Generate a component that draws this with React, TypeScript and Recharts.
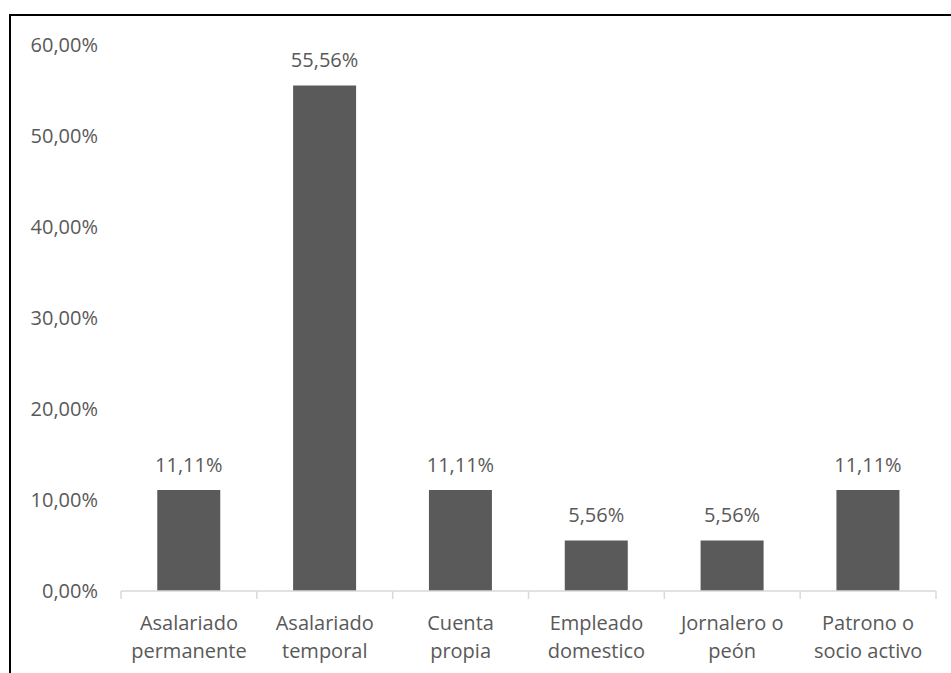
import { BarChart, Bar, XAxis, YAxis, LabelList } from "recharts";

const categories = [
  "Asalariado permanente",
  "Asalariado temporal",
  "Cuenta propia",
  "Empleado domestico",
  "Jornalero o peón",
  "Patrono o socio activo",
];
const tickLines = [
  ["Asalariado", "permanente"],
  ["Asalariado", "temporal"],
  ["Cuenta", "propia"],
  ["Empleado", "domestico"],
  ["Jornalero o", "peón"],
  ["Patrono o", "socio activo"],
];
const shares = [11.11, 55.56, 11.11, 5.56, 5.56, 11.11];
const yTicks = [0, 10, 20, 30, 40, 50, 60];

const fmt = (v: number) => `${v.toFixed(2).replace(".", ",")}%`;
const FONT = "'Open Sans', sans-serif";
const TEXT = "#595959";
const AXIS = "#d9d9d9";

const chartData = categories.map((name, i) => ({ name, share: shares[i] }));

function CategoryTick(props: any) {
  const { x, y, payload, index } = props;
  const half = payload.offset ?? 0;
  const lines = tickLines[index] ?? [payload.value];
  return (
    <g>
      <line x1={x - half} x2={x - half} y1={y} y2={y + 8} stroke={AXIS} strokeWidth={1.5} />
      {index === categories.length - 1 && (
        <line x1={x + half} x2={x + half} y1={y} y2={y + 8} stroke={AXIS} strokeWidth={1.5} />
      )}
      {lines.map((t: string, k: number) => (
        <text key={k} x={x} y={y + 39 + k * 28} textAnchor="middle" fill={TEXT} fontSize={20} fontFamily={FONT}>
          {t}
        </text>
      ))}
    </g>
  );
}

export default function App() {
  return (
    <div style={{ position: "absolute", left: 0, top: 0, width: 951, height: 673, overflow: "hidden", background: "#fff" }}>
      {/* only the top and left edges of the frame are in view */}
      <div
        style={{
          position: "absolute",
          left: 9,
          top: 14,
          width: 1000,
          height: 700,
          borderTop: "2px solid #000",
          borderLeft: "2px solid #000",
        }}
      />
      <div style={{ position: "absolute", left: 0, top: 0 }}>
        <BarChart
          width={951}
          height={673}
          data={chartData}
          margin={{ top: 45, right: 15, left: 0, bottom: 0 }}
          barCategoryGap="26.7%"
        >
          <XAxis
            dataKey="name"
            height={82}
            axisLine={{ stroke: AXIS, strokeWidth: 1.5 }}
            tickLine={false}
            tickSize={0}
            tickMargin={0}
            interval={0}
            tick={<CategoryTick />}
          />
          <YAxis
            width={121}
            domain={[0, 60]}
            ticks={yTicks}
            tickFormatter={fmt}
            axisLine={false}
            tickLine={false}
            tickSize={15}
            tickMargin={8}
            tick={{ fill: TEXT, fontSize: 20, fontFamily: FONT }}
          />
          <Bar dataKey="share" fill="#5a5a5a" isAnimationActive={false}>
            <LabelList
              dataKey="share"
              position="top"
              offset={18}
              formatter={(v: any) => fmt(Number(v))}
              fill={TEXT}
              fontSize={20}
              fontFamily={FONT}
            />
          </Bar>
        </BarChart>
      </div>
    </div>
  );
}
